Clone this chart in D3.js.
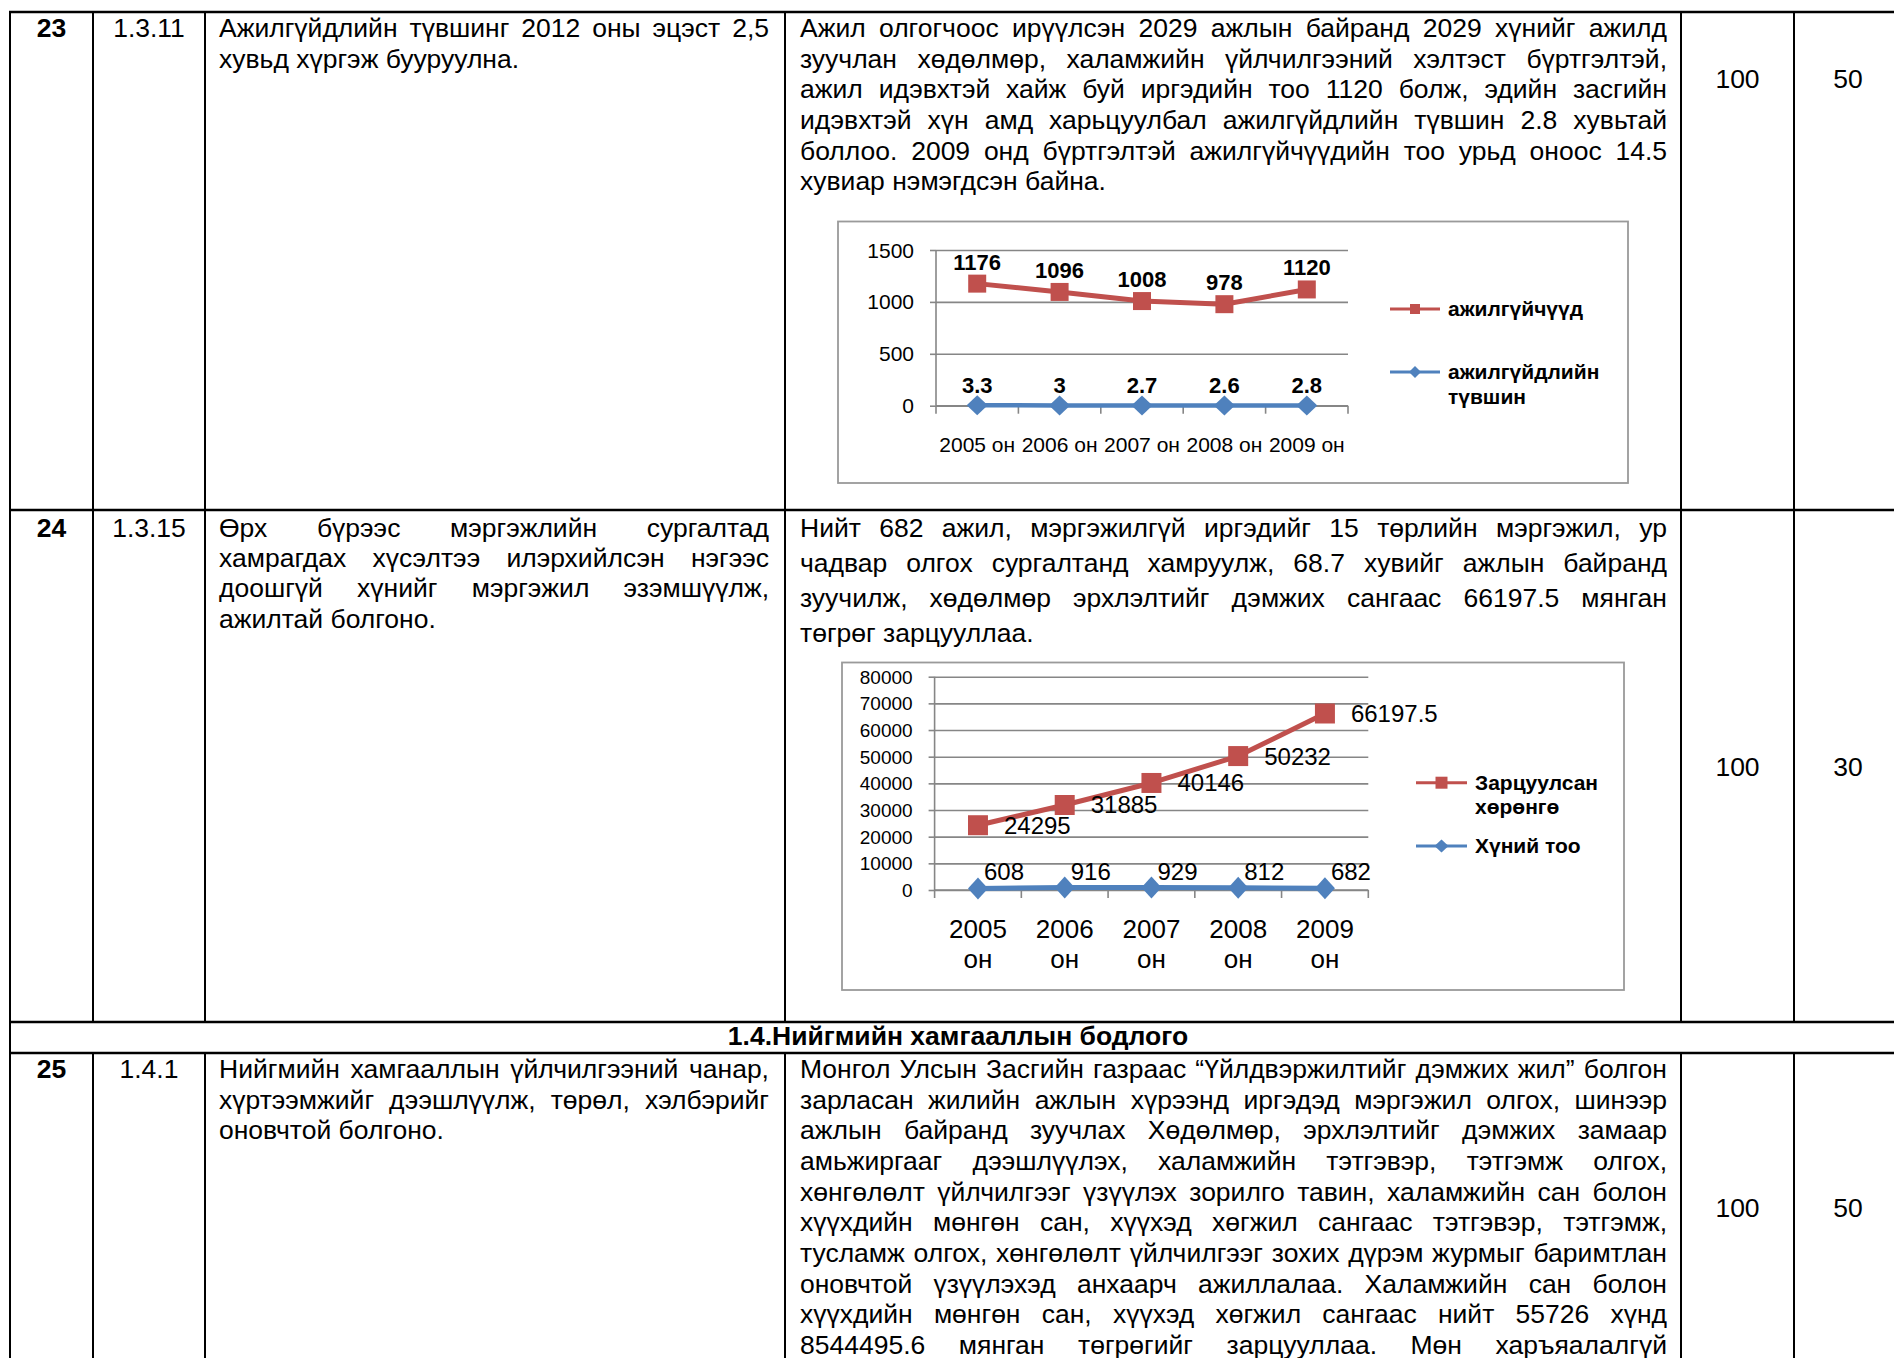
<!DOCTYPE html>
<html>
<head>
<meta charset="utf-8">
<script src="https://cdn.jsdelivr.net/npm/d3@7"></script>
<style>
  html, body { margin: 0; padding: 0; background: #fff; overflow: hidden; }
  svg { display: block; }
  text { font-family: "Liberation Sans", Arial, Helvetica, sans-serif; fill: #000; }
</style>
</head>
<body>
<svg id="page"></svg>
<script>
// ---- chart 1: ажилгүйчүүд / ажилгүйдлийн түвшин ----
const years1 = ["2005 он", "2006 он", "2007 он", "2008 он", "2009 он"];
const unemployed = [1176, 1096, 1008, 978, 1120];
const unemploymentRate = [3.3, 3, 2.7, 2.6, 2.8];
const ticks1 = [0, 500, 1000, 1500];
const legend1 = [["ажилгүйчүүд"], ["ажилгүйдлийн", "түвшин"]];

// ---- chart 2: Зарцуулсан хөрөнгө / Хүний тоо ----
const years2 = [["2005", "он"], ["2006", "он"], ["2007", "он"], ["2008", "он"], ["2009", "он"]];
const spent = [24295, 31885, 40146, 50232, 66197.5];
const people = [608, 916, 929, 812, 682];
const ticks2 = [0, 10000, 20000, 30000, 40000, 50000, 60000, 70000, 80000];
const legend2 = [["Зарцуулсан", "хөрөнгө"], ["Хүний тоо"]];

// ---- table text ----
const rowNumbers = ["23", "24", "25"];
const rowCodes = ["1.3.11", "1.3.15", "1.4.1"];
const planValues = ["100", "100", "100"];
const scoreValues = ["50", "30", "50"];
const sectionTitle = "1.4.Нийгмийн хамгааллын бодлого";

const goal23 = ["Ажилгүйдлийн түвшинг 2012 оны эцэст 2,5", "хувьд хүргэж бууруулна."];
const done23 = [
  "Ажил олгогчоос ирүүлсэн 2029 ажлын байранд 2029 хүнийг ажилд",
  "зуучлан хөдөлмөр, халамжийн үйлчилгээний хэлтэст бүртгэлтэй,",
  "ажил идэвхтэй хайж буй иргэдийн тоо 1120 болж, эдийн засгийн",
  "идэвхтэй хүн амд харьцуулбал ажилгүйдлийн түвшин 2.8 хувьтай",
  "боллоо. 2009 онд бүртгэлтэй ажилгүйчүүдийн тоо урьд оноос 14.5",
  "хувиар нэмэгдсэн байна."
];
const goal24 = [
  "Өрх бүрээс мэргэжлийн сургалтад",
  "хамрагдах хүсэлтээ илэрхийлсэн нэгээс",
  "доошгүй хүнийг мэргэжил эзэмшүүлж,",
  "ажилтай болгоно."
];
const done24 = [
  "Нийт 682 ажил, мэргэжилгүй иргэдийг 15 төрлийн мэргэжил, ур",
  "чадвар олгох сургалтанд хамруулж, 68.7 хувийг ажлын байранд",
  "зуучилж, хөдөлмөр эрхлэлтийг дэмжих сангаас 66197.5 мянган",
  "төгрөг зарцууллаа."
];
const goal25 = [
  "Нийгмийн хамгааллын үйлчилгээний чанар,",
  "хүртээмжийг дээшлүүлж, төрөл, хэлбэрийг",
  "оновчтой болгоно."
];
const done25 = [
  "Монгол Улсын Засгийн газраас “Үйлдвэржилтийг дэмжих жил” болгон",
  "зарласан жилийн ажлын хүрээнд иргэдэд мэргэжил олгох, шинээр",
  "ажлын байранд зуучлах Хөдөлмөр, эрхлэлтийг дэмжих замаар",
  "амьжиргааг дээшлүүлэх, халамжийн тэтгэвэр, тэтгэмж олгох,",
  "хөнгөлөлт үйлчилгээг үзүүлэх зорилго тавин, халамжийн сан болон",
  "хүүхдийн мөнгөн сан, хүүхэд хөгжил сангаас тэтгэвэр, тэтгэмж,",
  "тусламж олгох, хөнгөлөлт үйлчилгээг зохих дүрэм журмыг баримтлан",
  "оновчтой үзүүлэхэд анхаарч ажиллалаа. Халамжийн сан болон",
  "хүүхдийн мөнгөн сан, хүүхэд хөгжил сангаас нийт 55726 хүнд",
  "8544495.6 мянган төгрөгийг зарцууллаа. Мөн харъяалалгүй"
];

const W = 1894, H = 1358;
const RED = "#C0504D", BLUE = "#4F81BD", GRID = "#868686";
const BODY = 26.5;

const svg = d3.select("#page").attr("width", W).attr("height", H);

// ---------- table grid ----------
const colX = [10, 93, 205, 785, 1681, 1794];
const rowY = [12, 510, 1022, 1053, H + 10];
const grid = svg.append("g").attr("stroke", "#000");

[rowY[0], rowY[1], rowY[2], rowY[3]].forEach(y => {
  grid.append("line").attr("x1", colX[0] - 1).attr("x2", W).attr("y1", y).attr("y2", y)
    .attr("stroke-width", 2.6);
});
colX.forEach((x, i) => {
  if (i === 0) {
    grid.append("line").attr("x1", x).attr("x2", x).attr("y1", rowY[0]).attr("y2", H)
      .attr("stroke-width", 2);
  } else {
    grid.append("line").attr("x1", x).attr("x2", x).attr("y1", rowY[0]).attr("y2", rowY[2])
      .attr("stroke-width", 2);
    grid.append("line").attr("x1", x).attr("x2", x).attr("y1", rowY[3]).attr("y2", H)
      .attr("stroke-width", 2);
  }
});

// ---------- text helpers ----------
const measurer = svg.append("text").attr("font-size", BODY).attr("x", -1000).attr("y", -1000);
function wordWidth(w, size, weight) {
  measurer.attr("font-size", size).attr("font-weight", weight || "normal").text(w);
  return measurer.node().getComputedTextLength();
}

function paragraph(lines, x0, width, base, pitch, justifyLast) {
  const g = svg.append("g").attr("font-size", BODY);
  lines.forEach((line, i) => {
    const y = base + i * pitch;
    const isLast = i === lines.length - 1;
    const words = line.split(" ");
    if ((isLast && !justifyLast) || words.length < 2) {
      g.append("text").attr("x", x0).attr("y", y).text(line);
      return;
    }
    const widths = words.map(w => wordWidth(w, BODY));
    const gap = (width - d3.sum(widths)) / (words.length - 1);
    if (gap < 3) {
      g.append("text").attr("x", x0).attr("y", y)
        .attr("textLength", width).attr("lengthAdjust", "spacingAndGlyphs").text(line);
      return;
    }
    const t = g.append("text").attr("y", y);
    let cx = x0;
    words.forEach((w, k) => {
      t.append("tspan").attr("x", cx).text(w);
      cx += widths[k] + gap;
    });
  });
}

function centered(str, cx, y, bold) {
  svg.append("text").attr("x", cx).attr("y", y).attr("font-size", BODY)
    .attr("text-anchor", "middle").attr("font-weight", bold ? "bold" : "normal").text(str);
}

// ---------- table content ----------
const c3 = { x: 219, w: 550 }, c4 = { x: 800, w: 867 };
const mid = i => (colX[i] + colX[i + 1]) / 2;
const firstBase = [37, 537, 1078];
const numBase = [88, 776, 1217];

rowNumbers.forEach((n, i) => {
  centered(n, mid(0), firstBase[i], true);
  centered(rowCodes[i], mid(1), firstBase[i], false);
  centered(planValues[i], mid(4), numBase[i], false);
  centered(scoreValues[i], 1848, numBase[i], false);
});

paragraph(goal23, c3.x, c3.w, 37, 30.65, false);
paragraph(done23, c4.x, c4.w, 37, 30.65, false);
paragraph(goal24, c3.x, c3.w, 537, 30.2, false);
paragraph(done24, c4.x, c4.w, 537, 35, false);
paragraph(goal25, c3.x, c3.w, 1078, 30.65, false);
paragraph(done25, c4.x, c4.w, 1078, 30.65, true);

svg.append("text").attr("x", 958).attr("y", 1045).attr("font-size", BODY)
  .attr("font-weight", "bold").attr("text-anchor", "middle").text(sectionTitle);

// ---------- chart helpers ----------
const squarePath = s => `M${-s / 2},${-s / 2}h${s}v${s}h${-s}Z`;
const diamondPath = (w, h) => `M0,${-h / 2}L${w / 2},0L0,${h / 2}L${-w / 2},0Z`;

function drawChart(cfg) {
  const g = svg.append("g");
  g.append("rect").attr("x", cfg.frame[0]).attr("y", cfg.frame[1])
    .attr("width", cfg.frame[2] - cfg.frame[0]).attr("height", cfg.frame[3] - cfg.frame[1])
    .attr("fill", "#fff").attr("stroke", "#9a9a9a").attr("stroke-width", 1.8);

  const x = d3.scaleBand().domain(d3.range(cfg.cats.length)).range(cfg.xRange);
  const y = d3.scaleLinear().domain([0, d3.max(cfg.ticks)]).range(cfg.yRange);
  const [x0, x1] = cfg.xRange;
  const cx = i => x(i) + x.bandwidth() / 2;

  // gridlines + outside tick marks
  const yAxis = g.append("g").attr("transform", `translate(${x0},0)`)
    .call(d3.axisLeft(y).tickValues(cfg.ticks).tickSize(6).tickFormat(""));
  yAxis.selectAll("line").attr("stroke", GRID).attr("stroke-width", 1.6);
  yAxis.select(".domain").remove();
  const gridG = g.append("g").attr("transform", `translate(${x0},0)`)
    .call(d3.axisLeft(y).tickValues(cfg.ticks).tickSize(-(x1 - x0)).tickFormat(""));
  gridG.select(".domain").remove();
  gridG.selectAll("line").attr("stroke", GRID).attr("stroke-width", 1.6);

  g.selectAll(".ytl").data(cfg.ticks).enter().append("text")
    .attr("x", x0 - 22).attr("y", d => y(d)).attr("dy", "0.36em")
    .attr("text-anchor", "end").attr("font-size", cfg.tickSize).text(d => d);

  // axes lines
  g.append("line").attr("x1", x0).attr("x2", x0).attr("y1", y(d3.max(cfg.ticks))).attr("y2", y(0))
    .attr("stroke", GRID).attr("stroke-width", 1.6);
  g.append("line").attr("x1", x0).attr("x2", x1).attr("y1", y(0)).attr("y2", y(0))
    .attr("stroke", GRID).attr("stroke-width", 1.6);
  g.selectAll(".xt").data(d3.range(cfg.cats.length + 1)).enter().append("line")
    .attr("x1", i => x0 + i * x.bandwidth()).attr("x2", i => x0 + i * x.bandwidth())
    .attr("y1", y(0)).attr("y2", y(0) + 8).attr("stroke", GRID).attr("stroke-width", 1.6);

  // category labels
  cfg.cats.forEach((c, i) => {
    const parts = Array.isArray(c) ? c : [c];
    parts.forEach((p, k) => {
      g.append("text").attr("x", cx(i)).attr("y", cfg.catBase[k])
        .attr("text-anchor", "middle").attr("font-size", cfg.catSize).text(p);
    });
  });

  // series
  cfg.series.forEach(s => {
    const line = d3.line().x((d, i) => cx(i)).y(d => y(d));
    g.append("path").attr("d", line(s.values)).attr("fill", "none")
      .attr("stroke", s.color).attr("stroke-width", s.width).attr("stroke-linejoin", "round");
    g.selectAll(null).data(s.values).enter().append("path")
      .attr("transform", (d, i) => `translate(${cx(i)},${y(d)})`)
      .attr("d", s.marker).attr("fill", s.color);
    g.selectAll(null).data(s.values).enter().append("text")
      .attr("x", (d, i) => cx(i) + s.ldx).attr("y", d => y(d) + s.ldy)
      .attr("text-anchor", s.anchor).attr("font-size", s.lsize)
      .attr("font-weight", s.lbold ? "bold" : "normal").text(d => d);
  });

  // legend
  cfg.legend.forEach((lg, i) => {
    const s = cfg.series[i];
    const ly = cfg.legendY[i];
    g.append("line").attr("x1", cfg.legendX[0]).attr("x2", cfg.legendX[1])
      .attr("y1", ly).attr("y2", ly).attr("stroke", s.color).attr("stroke-width", 3);
    g.append("path").attr("transform", `translate(${(cfg.legendX[0] + cfg.legendX[1]) / 2},${ly})`)
      .attr("d", s.legendMarker).attr("fill", s.color);
    lg.forEach((t, k) => {
      g.append("text").attr("x", cfg.legendX[1] + 8).attr("y", ly + 7 + k * 24.5)
        .attr("font-size", 21).attr("font-weight", "bold").text(t);
    });
  });
}

drawChart({
  frame: [838, 221.5, 1628, 483],
  xRange: [936, 1348],
  yRange: [405.7, 250],
  cats: years1,
  ticks: ticks1,
  tickSize: 21,
  catSize: 21,
  catBase: [452],
  legend: legend1,
  legendX: [1390, 1440],
  legendY: [309, 372],
  series: [
    { values: unemployed, color: RED, width: 5, marker: squarePath(18), legendMarker: squarePath(10),
      ldx: 0, ldy: -14, anchor: "middle", lsize: 22, lbold: true },
    { values: unemploymentRate, color: BLUE, width: 4.5, marker: diamondPath(21, 20), legendMarker: diamondPath(12, 12),
      ldx: 0, ldy: -12, anchor: "middle", lsize: 22, lbold: true }
  ]
});

drawChart({
  frame: [842, 662.5, 1624, 990],
  xRange: [934.6, 1368.3],
  yRange: [890, 676.7],
  cats: years2,
  ticks: ticks2,
  tickSize: 19,
  catSize: 26,
  catBase: [937.5, 968],
  legend: legend2,
  legendX: [1416, 1467],
  legendY: [782.7, 846],
  series: [
    { values: spent, color: RED, width: 5, marker: squarePath(20), legendMarker: squarePath(12),
      ldx: 26, ldy: 8.5, anchor: "start", lsize: 24, lbold: false },
    { values: people, color: BLUE, width: 5, marker: diamondPath(20, 22), legendMarker: diamondPath(14, 13),
      ldx: 6, ldy: -8, anchor: "start", lsize: 24, lbold: false }
  ]
});

measurer.remove();
</script>
</body>
</html>
